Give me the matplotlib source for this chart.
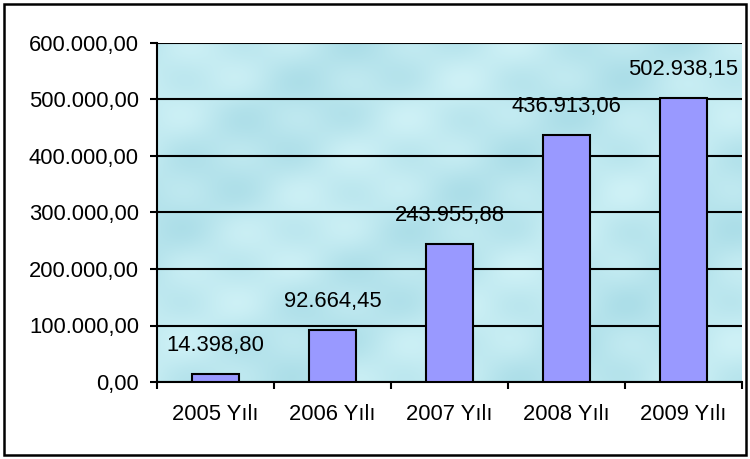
import numpy as np
import matplotlib.pyplot as plt
from matplotlib.patches import Rectangle
from matplotlib.ticker import FuncFormatter

# chart data
categories = ["2005 Yılı", "2006 Yılı", "2007 Yılı", "2008 Yılı", "2009 Yılı"]
values = [14398.80, 92664.45, 243955.88, 436913.06, 502938.15]
y_ticks = [0, 100000, 200000, 300000, 400000, 500000, 600000]


def tr_format(v, pos=None):
	# Turkish number style: 1.234,56
	s = f"{v:,.2f}"
	return s.replace(",", "X").replace(".", ",").replace("X", ".")


plt.rcParams['font.family'] = ['Liberation Sans', 'DejaVu Sans']
fig = plt.figure(figsize=(7.5, 4.59), dpi=100)
ax = fig.add_axes([157 / 750, 77 / 459, 585 / 750, 339 / 459])

# light water-like background for the plot area
yy, xx = np.mgrid[0:200, 0:300]
tex = 0.5 + 0.25 * np.sin(xx / 9.0) * np.cos(yy / 7.0) + 0.25 * np.sin((xx + yy) / 23.0)
bg = np.zeros((200, 300, 3))
c1 = np.array([172, 222, 232]) / 255
c2 = np.array([206, 241, 246]) / 255
for k in range(3):
	bg[:, :, k] = c1[k] + (c2[k] - c1[k]) * tex
ax.imshow(bg, extent=[0, 1, 0, 1], transform=ax.transAxes, aspect='auto', zorder=0)

fs = 15.8
x = np.arange(len(categories))
ax.bar(x, values, width=0.4, color="#9999FF", edgecolor="black", linewidth=1.5, zorder=3)
for xi, v in zip(x, values):
	ax.annotate(tr_format(v), (xi, v), xytext=(0, 13), textcoords="offset points",
		ha="center", va="bottom", fontsize=fs, zorder=4)

ax.set_xlim(-0.5, len(categories) - 0.5)
ax.set_ylim(0, 600000)
ax.set_yticks(y_ticks)
ax.yaxis.set_major_formatter(FuncFormatter(tr_format))
ax.yaxis.grid(True, color="black", linewidth=1.5, zorder=1)
ax.set_axisbelow(True)

ax.set_xticks(np.arange(len(categories) + 1) - 0.5)
ax.set_xticklabels([])
ax.set_xticks(x, minor=True)
ax.set_xticklabels(categories, minor=True)
ax.tick_params(axis="x", which="major", length=5, width=1.5)
ax.tick_params(axis="x", which="minor", length=0, pad=16, labelsize=fs)
ax.tick_params(axis="y", length=5, width=1.5, pad=8, labelsize=fs)

for side in ["top", "right"]:
	ax.spines[side].set_visible(False)
ax.spines["left"].set_linewidth(1.5)
ax.spines["bottom"].set_linewidth(1.5)

# outer chart border
fig.patches.append(Rectangle((4 / 750, 4 / 459), 742 / 750, 451 / 459, transform=fig.transFigure,
	fill=False, edgecolor="black", linewidth=1.8))

fig.savefig("out.png", dpi=100)
